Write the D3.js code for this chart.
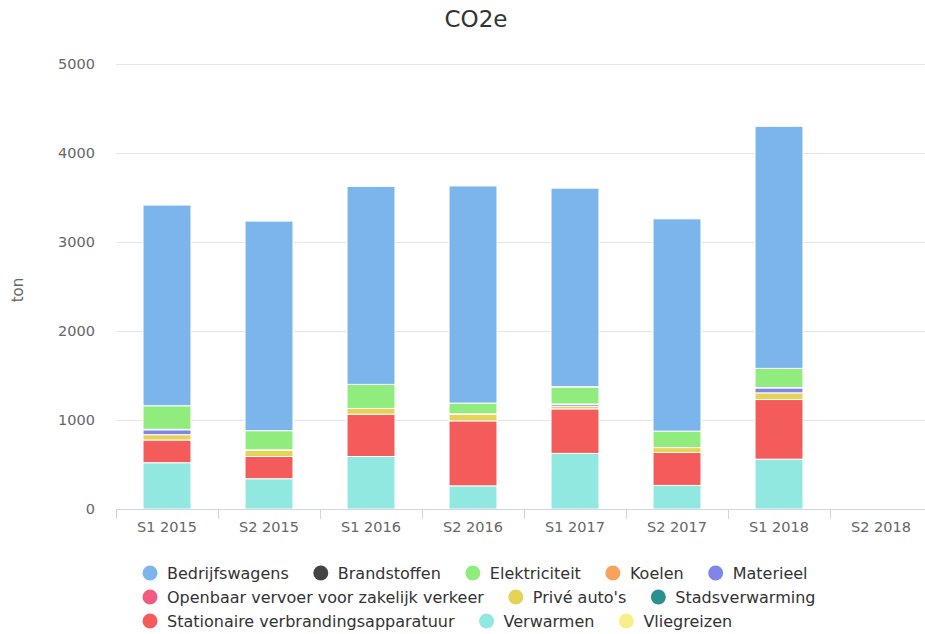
<!DOCTYPE html>
<html>
<head>
<meta charset="utf-8">
<script src="https://cdn.jsdelivr.net/npm/d3@7"></script>
<style>
  html, body { margin: 0; padding: 0; background: #fff; }
  svg { display: block; font-family: "DejaVu Sans", sans-serif; }
</style>
</head>
<body>
<svg id="chart" width="925" height="634"></svg>
<script>
const categories = ["S1 2015", "S2 2015", "S1 2016", "S2 2016", "S1 2017", "S2 2017", "S1 2018", "S2 2018"];
const seriesNames = ["Bedrijfswagens", "Brandstoffen", "Elektriciteit", "Koelen", "Materieel",
  "Openbaar vervoer voor zakelijk verkeer", "Privé auto's", "Stadsverwarming",
  "Stationaire verbrandingsapparatuur", "Verwarmen", "Vliegreizen"];
const seriesColors = ["#7cb5ec", "#434348", "#90ed7d", "#f7a35c", "#8085e9",
  "#f15c80", "#e4d354", "#2b908f", "#f45b5b", "#91e8e1", "#f7f08a"];

const bedrijfswagens = [2255, 2355, 2225, 2440, 2230, 2385, 2720, 0];
const brandstoffen   = [0, 0, 0, 0, 5, 0, 0, 0];
const elektriciteit  = [265, 215, 270, 120, 190, 185, 215, 0];
const koelen         = [5, 5, 0, 5, 5, 0, 5, 0];
const materieel      = [55, 0, 0, 0, 20, 0, 55, 0];
const openbaar       = [0, 0, 0, 0, 0, 0, 0, 0];
const priveAutos     = [60, 70, 65, 75, 30, 55, 75, 0];
const stadsverwarming= [0, 0, 0, 0, 0, 0, 0, 0];
const stationaire    = [255, 250, 475, 730, 500, 370, 670, 0];
const verwarmen      = [520, 340, 590, 260, 625, 265, 560, 0];
const vliegreizen    = [0, 0, 0, 0, 0, 0, 0, 0];

const yTicks = [0, 1000, 2000, 3000, 4000, 5000];

const seriesValues = [bedrijfswagens, brandstoffen, elektriciteit, koelen, materieel,
  openbaar, priveAutos, stadsverwarming, stationaire, verwarmen, vliegreizen];

const svg = d3.select("#chart");
const plotLeft = 116, plotRight = 932, plotTop = 64, plotBottom = 509;

const x = d3.scaleBand().domain(categories).range([plotLeft, plotRight]).padding(0);
const y = d3.scaleLinear().domain([0, 5000]).range([plotBottom, plotTop]);

// Title
svg.append("text").attr("x", 476).attr("y", 27).attr("text-anchor", "middle")
  .attr("font-size", 23).attr("fill", "#333").text("CO2e");

// Gridlines
svg.append("g").selectAll("line").data(yTicks.filter(d => d > 0)).join("line")
  .attr("x1", plotLeft).attr("x2", plotRight)
  .attr("y1", d => Math.round(y(d)) + 0.5).attr("y2", d => Math.round(y(d)) + 0.5)
  .attr("stroke", "#e6e6e6").attr("stroke-width", 1);

// Y axis labels
const yAxis = d3.axisLeft(y).tickValues(yTicks).tickSize(0).tickPadding(21).tickFormat(d3.format("d"));
const yg = svg.append("g").attr("transform", `translate(${plotLeft},0)`).call(yAxis);
yg.select(".domain").remove();
yg.selectAll("text").attr("font-size", 14.5).attr("fill", "#666").attr("font-family", "DejaVu Sans, sans-serif");

// Y axis title
svg.append("text").attr("transform", "translate(23,290) rotate(-90)")
  .attr("text-anchor", "middle").attr("font-size", 15).attr("fill", "#666").text("ton");

// Stack data: first series on top => stack in reversed order
const table = categories.map((c, i) => {
  const row = { cat: c };
  seriesNames.forEach((s, j) => row[s] = seriesValues[j][i]);
  return row;
});
const stackKeys = seriesNames.slice().reverse();
const stacked = d3.stack().keys(stackKeys)(table);

const barW = x.bandwidth() * 0.47;
const barOff = (x.bandwidth() - barW) / 2;

svg.append("g").selectAll("g").data(stacked).join("g")
  .attr("fill", d => seriesColors[seriesNames.indexOf(d.key)])
  .selectAll("rect").data(d => d.filter(p => p[1] - p[0] > 0)).join("rect")
  .attr("x", d => x(d.data.cat) + barOff)
  .attr("width", barW)
  .attr("y", d => y(d[1]))
  .attr("height", d => y(d[0]) - y(d[1]))
  .attr("stroke", "#fff").attr("stroke-width", 1);

// X axis
const xAxis = d3.axisBottom(x).tickSize(0).tickPadding(13);
const xg = svg.append("g").attr("transform", `translate(0,${plotBottom})`).call(xAxis);
xg.select(".domain").attr("stroke", "#ccd6eb");
xg.selectAll("text").attr("font-size", 14.5).attr("fill", "#666").attr("font-family", "DejaVu Sans, sans-serif");
// category boundary ticks
xg.append("g").selectAll("line").data(categories.slice(1)).join("line")
  .attr("x1", d => Math.round(x(d)) + 0.5).attr("x2", d => Math.round(x(d)) + 0.5)
  .attr("y1", 0).attr("y2", 10).attr("stroke", "#ccd6eb");
xg.append("line").attr("x1", plotLeft + 0.5).attr("x2", plotLeft + 0.5)
  .attr("y1", 0).attr("y2", 10).attr("stroke", "#ccd6eb");

// Legend (flow layout)
const legend = svg.append("g");
const legStartX = 143, legMaxW = 700, rowH = 24, legY0 = 573;
let lx = legStartX, ly = legY0;
seriesNames.forEach((name, i) => {
  const item = legend.append("g");
  const t = item.append("text").attr("x", 24).attr("y", 0).attr("dy", "0.35em")
    .attr("font-size", 16).attr("fill", "#333").text(name);
  const w = 24 + t.node().getComputedTextLength();
  if (lx > legStartX && lx - legStartX + w > legMaxW) { lx = legStartX; ly += rowH; }
  item.attr("transform", `translate(${lx},${ly})`);
  item.insert("circle", "text").attr("cx", 7).attr("cy", 0).attr("r", 7.5).attr("fill", seriesColors[i]);
  lx += w + 25;
});
</script>
</body>
</html>
